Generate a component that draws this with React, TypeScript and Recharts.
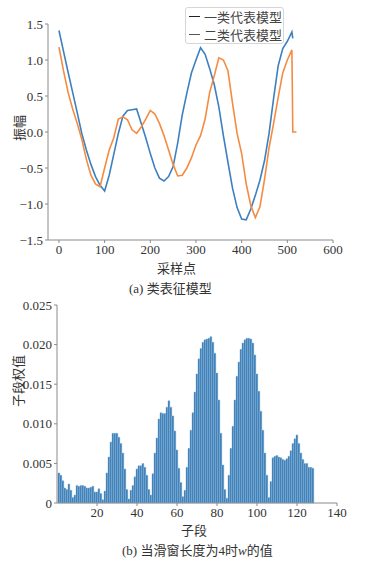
import React from 'react';
import { LineChart, Line, BarChart, Bar, XAxis, YAxis } from 'recharts';

// (a) sample index and the two representative waveforms
const sampleIdx = [
  0, 10, 20, 30, 40, 50, 60, 70, 80, 90, 100, 110, 120, 130, 140, 150, 160, 170, 180, 190,
  200, 210, 220, 230, 240, 250, 260, 270, 280, 290, 300, 310, 320, 330, 340, 350, 360, 370, 380, 390,
  400, 410, 420, 430, 440, 450, 460, 470, 480, 490, 500, 510, 512, 520,
];
const type1Curve = [
  1.41, 1.12, 0.83, 0.55, 0.27, -0.02, -0.25, -0.45, -0.62, -0.74, -0.82, -0.6, -0.31, -0.02, 0.22, 0.3, 0.31, 0.32, 0.12, -0.08,
  -0.3, -0.5, -0.64, -0.68, -0.62, -0.48, -0.15, 0.24, 0.54, 0.82, 1.0, 1.17, 1.08, 0.88, 0.66, 0.35, -0.05, -0.42, -0.78, -1.05,
  -1.21, -1.22, -1.07, -0.88, -0.67, -0.4, -0.02, 0.47, 0.92, 1.16, 1.26, 1.39, 1.3, null,
];
const type2Curve = [
  1.18, 0.85, 0.55, 0.32, 0.12, -0.1, -0.38, -0.6, -0.72, -0.76, -0.5, -0.25, -0.08, 0.18, 0.21, 0.17, 0.03, -0.02, 0.07, 0.18,
  0.3, 0.25, 0.12, -0.05, -0.25, -0.45, -0.61, -0.6, -0.5, -0.36, -0.18, -0.05, 0.18, 0.55, 0.78, 1.03, 1.0, 0.85, 0.4, -0.02,
  -0.3, -0.72, -1.02, -1.19, -1.04, -0.66, -0.22, 0.12, 0.48, 0.82, 1.0, 1.14, 0, 0,
];
const xTicksA = [0, 100, 200, 300, 400, 500, 600];
const yTicksA = [-1.5, -1.0, -0.5, 0, 0.5, 1.0, 1.5];

// (b) sub-segment weights
const segWeights = [
  0.0038, 0.0035, 0.0028, 0.0019, 0.0017, 0.0024, 0.0016, 0.0007, 0.001, 0.0022,
  0.0021, 0.0022, 0.0022, 0.0021, 0.0019, 0.0019, 0.002, 0.0021, 0.0014, 0.0014,
  0.0018, 0.0012, 0.0004, 0.0015, 0.0038, 0.0058, 0.0077, 0.0088, 0.0088, 0.0088,
  0.0083, 0.0075, 0.0063, 0.0043, 0.0017, 0.0005, 0.0016, 0.0022, 0.0033, 0.0043,
  0.0047, 0.0047, 0.005, 0.0045, 0.0035, 0.0017, 0.001, 0.0037, 0.0063, 0.0082,
  0.0106, 0.0114, 0.0113, 0.0113, 0.0121, 0.0129, 0.0121, 0.011, 0.0091, 0.0067,
  0.0044, 0.0026, 0.0008, 0.0016, 0.0045, 0.0069, 0.0092, 0.0114, 0.014, 0.0163,
  0.0182, 0.0195, 0.0203, 0.0206, 0.0207, 0.0208, 0.021, 0.0203, 0.0189, 0.0164,
  0.013, 0.0088, 0.0048, 0.0017, 0.0006, 0.0035, 0.0069, 0.0097, 0.013, 0.016,
  0.0178, 0.0194, 0.0202, 0.0206, 0.0208, 0.0208, 0.0207, 0.0202, 0.0187, 0.0163,
  0.0141, 0.0116, 0.0092, 0.0063, 0.0035, 0.0007, 0.0027, 0.0057, 0.0059, 0.006,
  0.0058, 0.0057, 0.0055, 0.0054, 0.0056, 0.0059, 0.0066, 0.0075, 0.0081, 0.0086,
  0.0075, 0.0063, 0.0055, 0.005, 0.005, 0.0045, 0.0045, 0.0044,
];
const xTicksB = [20, 40, 60, 80, 100, 120, 140];
const yTicksB = [0, 0.005, 0.01, 0.015, 0.02, 0.025];

const waveData = sampleIdx.map((x, i) => ({ x, t1: type1Curve[i], t2: type2Curve[i] }));
const segData = segWeights.map((w, i) => ({ seg: i + 1, w }));

const serif = '"Liberation Serif", "DejaVu Serif", serif';
const tickStyle = { fill: '#333', fontSize: 13, fontFamily: serif };
const axisStroke = '#8a8a8a';
const cjk = '"Noto Sans CJK SC", sans-serif';

const fmtA = (v: number) => (v < 0 ? '\u2212' + Math.abs(v).toFixed(1) : v.toFixed(1));
const fmtB = (v: number) => (v === 0 ? '0' : v.toFixed(3));

const txt = (left: number, top: number, s: React.ReactNode, extra: React.CSSProperties = {}) => (
  <div style={{ position: 'absolute', left, top, fontFamily: cjk, fontSize: 13, color: '#333', whiteSpace: 'nowrap', ...extra }}>{s}</div>
);

// rotated y title, centred at (cx, cy)
const vtxt = (cx: number, cy: number, s: string) => (
  <div style={{ position: 'absolute', left: cx, top: cy, transform: 'translate(-50%, -50%) rotate(-90deg)',
    fontFamily: cjk, fontSize: 13, color: '#333', whiteSpace: 'nowrap', lineHeight: '15px' }}>{s}</div>
);

export default function App() {
  return (
    <div style={{ position: 'relative', width: 378, height: 562, background: '#fff', overflow: 'hidden' }}>
      <style>{'body{margin:0} .recharts-cartesian-axis-tick-value{font-family:"Liberation Serif", serif}'}</style>

      <div style={{ position: 'absolute', left: 0, top: 0 }}>
        <LineChart width={378} height={262} data={waveData} margin={{ top: 24, right: 45, left: 0, bottom: 0 }}>
          <XAxis type="number" dataKey="x" domain={[-24, 600]} ticks={xTicksA} height={22} stroke={axisStroke}
            tick={tickStyle} tickSize={3} allowDataOverflow />
          <YAxis type="number" domain={[-1.5, 1.5]} ticks={yTicksA} width={48} stroke={axisStroke}
            tick={tickStyle} tickSize={3} tickFormatter={fmtA} allowDataOverflow />
          <Line dataKey="t1" stroke="#3d80c0" strokeWidth={1.6} dot={false} isAnimationActive={false} />
          <Line dataKey="t2" stroke="#f58b40" strokeWidth={1.6} dot={false} isAnimationActive={false} />
        </LineChart>
      </div>

      {/* legend */}
      <div style={{ position: 'absolute', left: 185, top: 7, width: 97, height: 35, border: '1px solid #d6d6d6', borderRadius: 3, background: '#fff' }} />
      <div style={{ position: 'absolute', left: 189, top: 16, width: 11, borderTop: '1.3px solid #222' }} />
      <div style={{ position: 'absolute', left: 189, top: 34, width: 11, borderTop: '1.3px solid #555' }} />
      {txt(204, 7, '一类代表模型', { color: '#444' })}
      {txt(204, 25, '二类代表模型', { color: '#444' })}

      {vtxt(18, 128, '振幅')}
      {txt(157, 258, '采样点')}
      {txt(129, 278, <span><span style={{ fontFamily: serif }}>(a) </span>类表征模型</span>)}

      <div style={{ position: 'absolute', left: 0, top: 290 }}>
        <BarChart width={378} height={240} data={segData} margin={{ top: 15, right: 41, left: 0, bottom: 2 }}>
          <XAxis type="number" dataKey="seg" domain={[0, 140]} ticks={xTicksB} height={25} stroke={axisStroke}
            tick={tickStyle} tickSize={3} />
          <YAxis type="number" domain={[0, 0.025]} ticks={yTicksB} width={57} stroke={axisStroke}
            tick={tickStyle} tickSize={3} tickFormatter={fmtB} />
          <Bar dataKey="w" barSize={2} fill="#2e73ad" stroke="#86b6dc" strokeWidth={0.5} isAnimationActive={false} />
        </BarChart>
      </div>

      {vtxt(17, 381, '子段权值')}
      {txt(181, 520, '子段')}
      {txt(122, 540, <span><span style={{ fontFamily: serif }}>(b) </span>当滑窗长度为<span style={{ fontFamily: serif }}>4</span>时<i style={{ fontFamily: serif }}>w</i>的值</span>)}
    </div>
  );
}
